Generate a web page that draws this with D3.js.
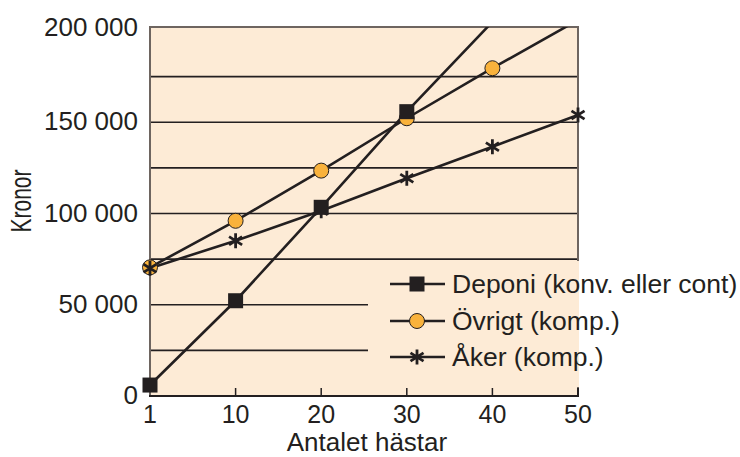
<!DOCTYPE html>
<html>
<head>
<meta charset="utf-8">
<script src="https://cdn.jsdelivr.net/npm/d3@7"></script>
<style>
    body { margin: 0; background: #ffffff; }
    svg { display: block; font-family: "Liberation Sans", Arial, sans-serif; }
</style>
</head>
<body>
<svg width="740" height="457"></svg>
<script>
// DATA
var horses = [1, 10, 20, 30, 40, 50];
var deponi = [6000, 52200, 103400, 155800, 205000];
var ovrigt = [70500, 96000, 123500, 152200, 179600, 206000];
var aker = [70000, 85100, 101500, 119300, 136600, 154000];
var yTicks = [0, 50000, 100000, 150000, 200000];
var gridValues = [25000, 50000, 75000, 100000, 125000, 150000, 175000];
var seriesNames = ["Deponi (konv. eller cont)", "\u00d6vrigt (komp.)", "\u00c5ker (komp.)"];

var color_bg = "#fdebd6";
var color_dark = "#231f20";
var color_frame = "#6e6560";
var color_orange = "#f9b23c";

var svg = d3.select("svg"),
    plotLeft = 150, plotRight = 578, plotTop = 27, plotBottom = 396;

var x = d3.scalePoint().domain(horses).range([plotLeft, plotRight]);
var y = d3.scaleLinear().domain([0, 200000]).range([plotBottom, 31]);

function fmt(v) { return d3.format(",")(v).replace(/,/g, " "); }

//Background
svg.append("rect")
    .attr("x", plotLeft).attr("y", plotTop)
    .attr("width", plotRight - plotLeft).attr("height", plotBottom - plotTop)
    .attr("fill", color_bg);

//Gridlines
svg.selectAll(".grid")
    .data(gridValues)
    .enter().append("line")
    .attr("class", "grid")
    .attr("x1", plotLeft).attr("x2", plotRight)
    .attr("y1", function (d) { return y(d); })
    .attr("y2", function (d) { return y(d); })
    .attr("stroke", color_dark)
    .attr("stroke-width", 1.6);

//Frame (left, top, right)
svg.append("path")
    .attr("d", "M" + plotLeft + "," + plotBottom + "V" + plotTop + "H" + plotRight + "V" + plotBottom)
    .attr("fill", "none")
    .attr("stroke", color_frame)
    .attr("stroke-width", 2);

//Legend box covers part of the plot
var legendBox = { x: 368, y: 261, w: 211, h: 126 };
svg.append("rect")
    .attr("x", legendBox.x).attr("y", legendBox.y)
    .attr("width", legendBox.w).attr("height", legendBox.h)
    .attr("fill", color_bg);

//X axis: ticks pointing inward
svg.selectAll(".xtick")
    .data(horses.slice(1, -1))
    .enter().append("line")
    .attr("class", "xtick")
    .attr("x1", function (d) { return x(d); })
    .attr("x2", function (d) { return x(d); })
    .attr("y1", plotBottom).attr("y2", plotBottom - 8)
    .attr("stroke", color_dark)
    .attr("stroke-width", 1.5);

svg.append("line")
    .attr("x1", plotLeft - 1).attr("x2", plotRight + 1)
    .attr("y1", plotBottom).attr("y2", plotBottom)
    .attr("stroke", color_dark)
    .attr("stroke-width", 2);

svg.append("line")
    .attr("x1", plotRight).attr("x2", plotRight)
    .attr("y1", plotBottom).attr("y2", plotBottom - 8)
    .attr("stroke", color_dark)
    .attr("stroke-width", 2);

svg.selectAll(".xlabel")
    .data(horses)
    .enter().append("text")
    .attr("class", "xlabel")
    .attr("x", function (d) { return x(d); })
    .attr("y", 423)
    .attr("text-anchor", "middle")
    .attr("font-size", 25)
    .attr("fill", color_dark)
    .text(function (d) { return d; });

svg.selectAll(".ylabel")
    .data(yTicks)
    .enter().append("text")
    .attr("class", "ylabel")
    .attr("x", 138)
    .attr("y", function (d) { return d === 200000 ? plotTop : y(d) - 1; })
    .attr("dy", "0.35em")
    .attr("text-anchor", "end")
    .attr("font-size", 26)
    .attr("fill", color_dark)
    .text(function (d) { return fmt(d); });

svg.append("text")
    .attr("x", 367).attr("y", 451)
    .attr("text-anchor", "middle")
    .attr("font-size", 26)
    .attr("fill", color_dark)
    .text("Antalet h\u00e4star");

svg.append("text")
    .attr("transform", "translate(31,201) rotate(-90)")
    .attr("text-anchor", "middle")
    .attr("font-size", 29)
    .attr("textLength", 63)
    .attr("lengthAdjust", "spacingAndGlyphs")
    .attr("fill", color_dark)
    .text("Kronor");

//Clip everything above the top of the plot
svg.append("clipPath").attr("id", "clip")
    .append("rect").attr("x", 0).attr("y", plotTop).attr("width", 740).attr("height", 457 - plotTop);

var plot = svg.append("g").attr("clip-path", "url(#clip)");

var line = d3.line()
    .x(function (d, i) { return x(horses[i]); })
    .y(function (d) { return y(d); });

var series = [deponi, ovrigt, aker];
var markerTypes = ["square", "circle", "star"];

plot.selectAll(".series")
    .data(series)
    .enter().append("path")
    .attr("class", "series")
    .attr("d", line)
    .attr("fill", "none")
    .attr("stroke", color_dark)
    .attr("stroke-width", 2.6);

function drawMarker(g, type, cx, cy) {
    if (type === "square") {
        g.append("rect")
            .attr("x", cx - 7.5).attr("y", cy - 7.5)
            .attr("width", 15).attr("height", 15)
            .attr("fill", color_dark);
    } else if (type === "circle") {
        g.append("circle")
            .attr("cx", cx).attr("cy", cy).attr("r", 7.5)
            .attr("fill", color_orange)
            .attr("stroke", color_dark)
            .attr("stroke-width", 1);
    } else {
        var r = 7.5;
        g.append("path")
            .attr("d", "M" + cx + "," + (cy - r) + "V" + (cy + r) +
                "M" + (cx - r * 0.87) + "," + (cy - r * 0.55) + "L" + (cx + r * 0.87) + "," + (cy + r * 0.55) +
                "M" + (cx - r * 0.87) + "," + (cy + r * 0.55) + "L" + (cx + r * 0.87) + "," + (cy - r * 0.55))
            .attr("stroke", color_dark)
            .attr("stroke-width", 2.8)
            .attr("fill", "none");
    }
}

//Markers: circles, then asterisks, then squares on top; points above the axis max get no marker
[1, 2, 0].forEach(function (s) {
    series[s].forEach(function (v, i) {
        if (v > y.domain()[1]) { return; }
        drawMarker(plot, markerTypes[s], x(horses[i]), y(v));
    });
});

//LEGEND
var legendRows = [284, 321, 357];
seriesNames.forEach(function (name, s) {
    var ly = legendRows[s];
    svg.append("line")
        .attr("x1", 390).attr("x2", 445)
        .attr("y1", ly).attr("y2", ly)
        .attr("stroke", color_dark)
        .attr("stroke-width", 2.6);
    drawMarker(svg, markerTypes[s], 417, ly);
    svg.append("text")
        .attr("x", 452).attr("y", ly)
        .attr("dy", "0.35em")
        .attr("font-size", 26.5)
        .attr("fill", color_dark)
        .text(name);
});
</script>
</body>
</html>
